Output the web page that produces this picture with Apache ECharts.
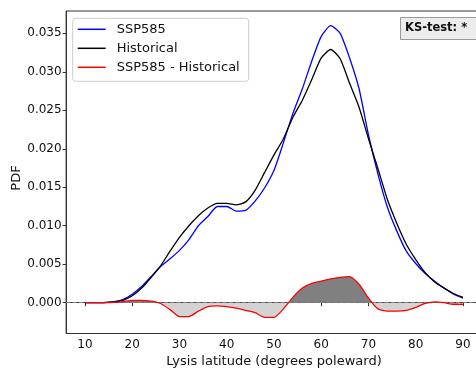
<!DOCTYPE html>
<html>
<head>
<meta charset="utf-8">
<script src="https://cdn.jsdelivr.net/npm/echarts@6/dist/echarts.min.js"></script>
<style>
  html, body { margin: 0; padding: 0; background: #ffffff; }
  #chart { width: 476px; height: 371px; }
</style>
</head>
<body>
<div id="chart"></div>
<script>
// Lysis latitude grid (degrees poleward)
const latitudes = [10, 12, 14, 16, 18, 20, 22, 24, 26, 28, 30, 32, 34, 36, 38, 40, 42, 44, 46, 48,
                   50, 52, 54, 56, 58, 60, 62, 64, 66, 68, 70, 72, 74, 76, 78, 80, 82, 84, 86, 88, 90];

// Probability density of lysis latitude, SSP585 scenario
const ssp585 = [0, 0, 0.00002, 0.0001, 0.0004, 0.0011, 0.0021, 0.0034, 0.0047, 0.0057,
                0.0068, 0.0082, 0.0100, 0.0112, 0.0125, 0.0125, 0.0119, 0.0120, 0.0132, 0.0149,
                0.0172, 0.0208, 0.0246, 0.0278, 0.0314, 0.0346, 0.0360, 0.0350, 0.0318, 0.0278,
                0.0218, 0.0167, 0.0124, 0.0093, 0.0067, 0.0051, 0.0038, 0.0028, 0.0019, 0.0011, 0.0006];

// Probability density of lysis latitude, historical period
const historical = [0, 0, 0.00002, 0.0001, 0.0003, 0.0009, 0.0019, 0.0033, 0.0048, 0.0067,
                    0.0085, 0.0100, 0.0113, 0.0123, 0.0129, 0.0129, 0.0127, 0.0131, 0.0146, 0.0169,
                    0.0192, 0.0213, 0.0241, 0.0263, 0.0290, 0.0318, 0.0329, 0.0317, 0.0285, 0.0254,
                    0.0213, 0.0174, 0.0134, 0.0103, 0.0076, 0.0056, 0.0039, 0.0027, 0.0019, 0.0012, 0.0007];

// SSP585 minus historical density
const difference = [0, 0, 0, 0.00005, 0.00015, 0.0003, 0.0003, 0.0002, -0.0001, -0.0009,
                    -0.0018, -0.0018, -0.0011, -0.0005, -0.0004, -0.0005, -0.0007, -0.0010, -0.0013, -0.0019,
                    -0.0019, -0.0008, 0.0007, 0.0019, 0.0025, 0.0028, 0.0031, 0.0033, 0.0034, 0.0024,
                    0.0006, -0.0008, -0.0011, -0.0011, -0.0010, -0.0006, -0.0001, 0.0001, 0.0000, -0.0002, -0.0002];

// Axis ticks
const xTicks = [10, 20, 30, 40, 50, 60, 70, 80, 90];
const yTicks = [0, 0.005, 0.010, 0.015, 0.020, 0.025, 0.030, 0.035];

const FONT = 'DejaVu Sans';
const AXIS_COLOR = '#333333';
const TEXT_COLOR = '#111111';
const GAIN_FILL = '#808080';
const LOSS_FILL = '#d3d3d3';
const CHART_H = 371;
const SMOOTH = 0.2;

const pairs = (ys) => latitudes.map((x, i) => [x, ys[i]]);

const chart = echarts.init(document.getElementById('chart'), null, { renderer: 'canvas' });

chart.setOption({
  animation: false,
  backgroundColor: '#ffffff',
  title: {
    text: 'KS-test: *',
    left: 400,
    top: 17,
    padding: [5, 30, 5, 5],
    backgroundColor: '#ececec',
    borderColor: '#9a9a9a',
    borderWidth: 1,
    textStyle: { fontFamily: FONT, fontSize: 11.5, fontWeight: 'bold', color: TEXT_COLOR, lineHeight: 13 }
  },
  legend: {
    data: ['SSP585', 'Historical', 'SSP585 - Historical'],
    orient: 'vertical',
    left: 72.7,
    top: 18.3,
    padding: [3, 9, 6, 5],
    itemGap: 3,
    itemWidth: 28,
    itemHeight: 1.5,
    icon: 'rect',
    borderColor: '#cccccc',
    borderWidth: 1,
    borderRadius: 3,
    backgroundColor: 'rgba(255,255,255,0.8)',
    textStyle: { fontFamily: FONT, fontSize: 13, color: TEXT_COLOR, lineHeight: 16, padding: [0, 0, 0, 6] }
  },
  graphic: [{
    // y-axis title
    type: 'text',
    x: 17,
    y: 178,
    rotation: Math.PI / 2,
    style: {
      text: 'PDF',
      fontFamily: FONT,
      fontSize: 13,
      fill: TEXT_COLOR,
      align: 'center',
      verticalAlign: 'middle'
    }
  }],
  grid: {
    left: 66.1,
    right: -5.9,
    top: 11,
    bottom: 37.5,
    containLabel: false,
    outerBoundsMode: 'none',
    show: true,
    borderColor: AXIS_COLOR,
    borderWidth: 1,
    backgroundColor: 'transparent'
  },
  xAxis: {
    type: 'value',
    min: 6,
    max: 94,
    name: 'Lysis latitude (degrees poleward)',
    nameLocation: 'middle',
    nameGap: 20,
    nameTextStyle: { fontFamily: FONT, fontSize: 13, color: TEXT_COLOR },
    axisLine: { show: true, lineStyle: { color: AXIS_COLOR, width: 1 } },
    axisTick: { show: true, length: 3.5, customValues: xTicks, lineStyle: { color: AXIS_COLOR } },
    axisLabel: { customValues: xTicks, margin: 5, fontFamily: FONT, fontSize: 12, color: TEXT_COLOR },
    splitLine: { show: false }
  },
  yAxis: {
    type: 'value',
    min: -0.004,
    max: 0.0379,
    axisLine: { show: true, lineStyle: { color: AXIS_COLOR, width: 1 } },
    axisTick: { show: true, length: 3.5, customValues: yTicks, lineStyle: { color: AXIS_COLOR } },
    axisLabel: {
      customValues: yTicks,
      margin: 4.5,
      fontFamily: FONT,
      fontSize: 12,
      color: TEXT_COLOR,
      formatter: (v) => v.toFixed(3)
    },
    splitLine: { show: false }
  },
  series: [
    {
      // shaded area between the difference curve and zero
      name: 'diff-fill',
      type: 'line',
      data: pairs(difference),
      smooth: SMOOTH,
      showSymbol: false,
      silent: true,
      lineStyle: { width: 0 },
      areaStyle: { opacity: 1, color: GAIN_FILL },
      z: 1,
      markLine: {
        silent: true,
        symbol: 'none',
        label: { show: false },
        lineStyle: { color: '#7f7f7f', type: [4.5, 2], width: 1.2 },
        data: [{ yAxis: 0 }],
        z: 5
      }
    },
    {
      name: 'SSP585',
      type: 'line',
      data: pairs(ssp585),
      smooth: SMOOTH,
      showSymbol: false,
      color: '#0000ff',
      lineStyle: { color: '#0000ff', width: 1.3 },
      z: 3
    },
    {
      name: 'Historical',
      type: 'line',
      data: pairs(historical),
      smooth: SMOOTH,
      showSymbol: false,
      color: '#000000',
      lineStyle: { color: '#000000', width: 1.3 },
      z: 4
    },
    {
      name: 'SSP585 - Historical',
      type: 'line',
      data: pairs(difference),
      smooth: SMOOTH,
      showSymbol: false,
      color: '#ff0000',
      lineStyle: { color: '#ff0000', width: 1.3 },
      z: 6
    }
  ]
});

// Split the shaded area at the zero line: dark above, light below.
const zeroY = chart.convertToPixel({ gridIndex: 0 }, [0, 0])[1];
const split = zeroY / CHART_H;
chart.setOption({
  series: [{
    name: 'diff-fill',
    areaStyle: {
      opacity: 1,
      color: new echarts.graphic.LinearGradient(0, 0, 0, CHART_H, [
        { offset: 0, color: GAIN_FILL },
        { offset: split, color: GAIN_FILL },
        { offset: split, color: LOSS_FILL },
        { offset: 1, color: LOSS_FILL }
      ], true)
    }
  }]
});
</script>
</body>
</html>
